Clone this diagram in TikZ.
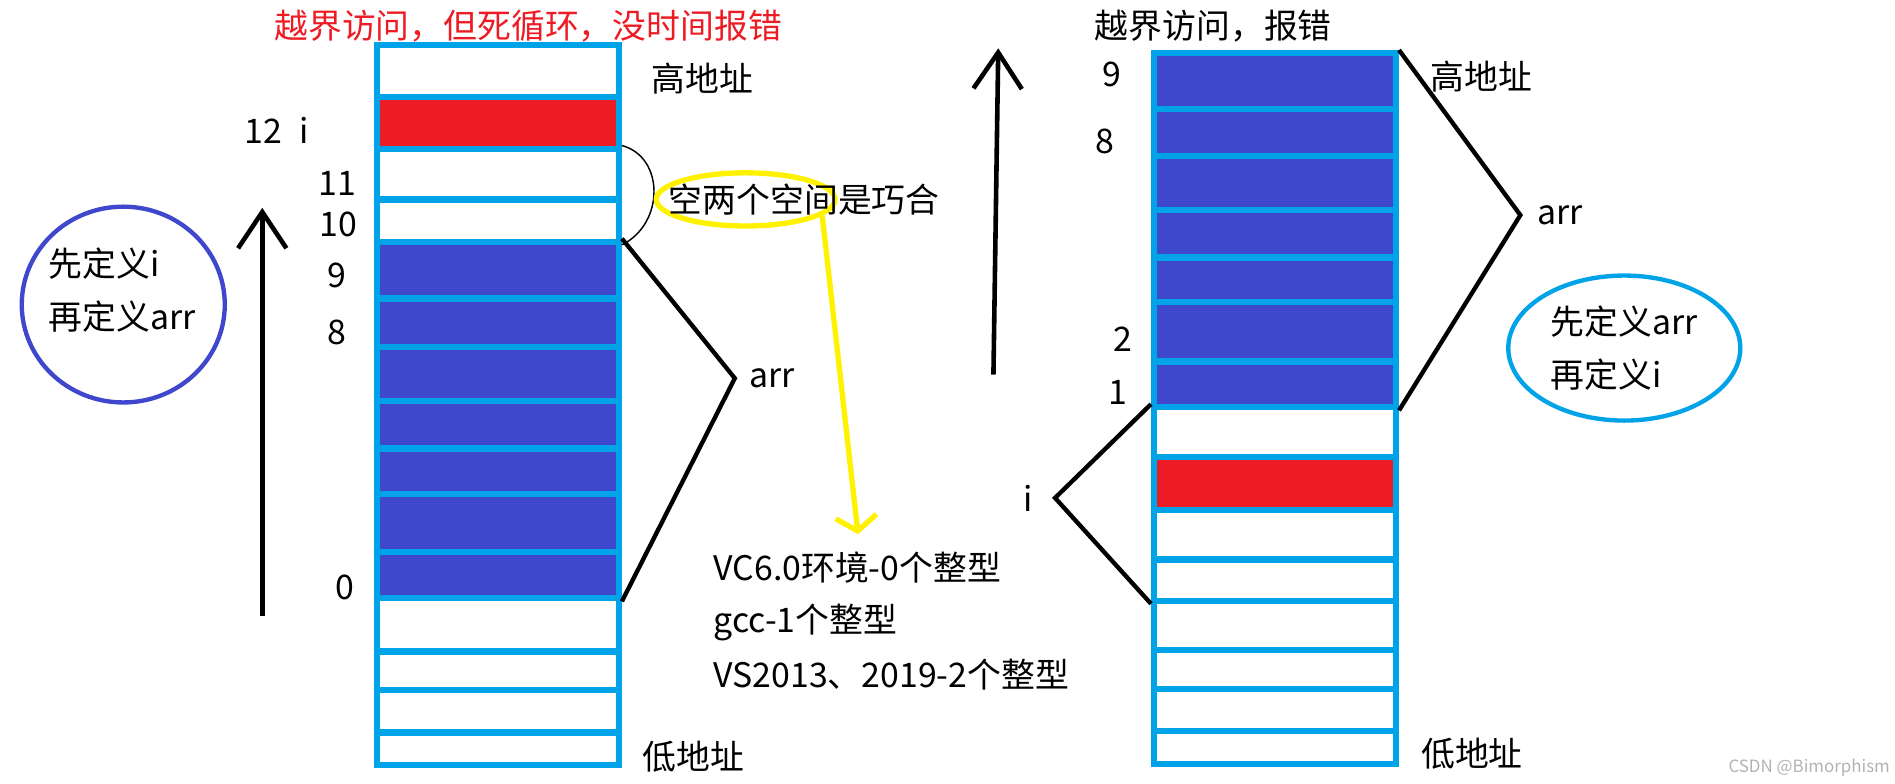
\documentclass[tikz,border=0pt]{standalone}
\usepackage{fontspec}
\usepackage{tikz}
\usetikzlibrary{arrows.meta,positioning,shapes.geometric}
\newfontfamily\cjk{Noto Sans CJK SC}
\definecolor{memcyan}{HTML}{00A2E8}
\definecolor{memblue}{HTML}{3F48CC}
\definecolor{memred}{HTML}{ED1C24}
\definecolor{memyellow}{HTML}{FFF200}

\begin{document}
\begin{tikzpicture}[
    x=0.5pt, y=-0.5pt,
    txt/.style={font=\cjk\fontsize{14}{22}\selectfont, inner sep=0pt},
    cell/.style={rectangle, draw=memcyan, line width=2.6pt,
                 minimum width=100pt, inner sep=0pt},
    brace/.style={line width=1.8pt},
    uparrow/.style={line width=1.9pt, -{Straight Barb[length=15pt,width=20pt]}},
    oval/.style={ellipse, line width=1.8pt, inner sep=0pt}
  ]
  \useasboundingbox (0,0) rectangle (1568,648);

  %% Left stack (i defined first, then arr)
  \foreach \n/\t/\b/\c in {1/37/80/white, 2/80/123/memred, 3/123/165/white,
      4/165/200/white, 5/200/247/memblue, 6/247/287/memblue, 7/287/332/memblue,
      8/332/371/memblue, 9/371/409/memblue, 10/409/457/memblue, 11/457/495/memblue,
      12/495/539/white, 13/539/571/white, 14/571/606/white, 15/606/633/white}
    \node[cell, fill=\c, minimum height={(\b-\t)*0.5pt}] (lc\n) at (412,{(\t+\b)/2}) {};

  %% Right stack (arr defined first, then i)
  \foreach \n/\t/\b/\c in {1/44/90/memblue, 2/90/129/memblue, 3/129/174/memblue,
      4/174/213/memblue, 5/213/250/memblue, 6/250/299/memblue, 7/299/337/memblue,
      8/337/378/white, 9/378/422/memred, 10/422/463/white, 11/463/497/white,
      12/497/538/white, 13/538/570/white, 14/570/605/white, 15/605/632/white}
    \node[cell, fill=\c, minimum height={(\b-\t)*0.5pt}] (rc\n) at (1055,{(\t+\b)/2}) {};

  %% Titles
  \node[txt, text=memred] (titleL) at (437,22) {越界访问，但死循环，没时间报错};
  \node[txt] (titleR) at (1004,22) {越界访问，报错};

  %% Address labels
  \node[txt] (highL) at (581,65) {高地址};
  \node[txt] (lowL) at (574,626) {低地址};
  \node[txt] (highR) at (1226,63) {高地址};
  \node[txt] (lowR) at (1218,624) {低地址};

  %% Index labels
  \node[txt] (idxL12) at (229,108) {12\enspace i};
  \node[txt] (idxL11) at (279,152) {11};
  \node[txt] (idxL10) at (280,186) {10};
  \node[txt] (idxL9) at (279,228) {9};
  \node[txt] (idxL8) at (279,275) {8};
  \node[txt] (idxL0) at (285,486) {0};
  \node[txt] (idxR9) at (920,62) {9};
  \node[txt] (idxR8) at (914,117) {8};
  \node[txt] (idxR2) at (929,281) {2};
  \node[txt] (idxR1) at (925,325) {1};

  %% Definition order notes
  \node[oval, draw=memblue, minimum width=84pt, minimum height=81pt] (orderL) at (102,252) {};
  \node[txt, align=left] (orderLtext) at (101,240) {先定义i\\再定义arr};
  \node[oval, draw=memcyan, minimum width=96pt, minimum height=60pt,
        txt, align=left] (orderR) at (1344,288) {先定义arr\\再定义i};

  %% Growth direction arrows
  \coordinate (upLbot) at (217,510);
  \coordinate (upLtop) at (217,172);
  \draw[uparrow] (upLbot) -- (upLtop);
  \coordinate (upRbot) at (822,310);
  \coordinate (upRtop) at (826,40);
  \draw[uparrow] (upRbot) -- (upRtop);

  %% arr / i brackets
  \coordinate (arrtipL) at (608,313);
  \draw[brace] (lc5.north east) -- (arrtipL) -- (lc11.south east);
  \node[txt, right=6pt of arrtipL] (arrL) {arr};
  \coordinate (arrtipR) at (1258,178);
  \draw[brace] (rc1.north east) -- (arrtipR) -- (rc7.south east);
  \node[txt, right=7pt of arrtipR] (arrR) {arr};
  \coordinate (itip) at (873,412);
  \draw[brace] (rc8.north west) -- (itip) -- (rc11.south west);
  \node[txt, left=9pt of itip] (iR) {i};

  %% Gap of two ints
  \draw[line width=0.6pt] (lc3.north east) .. controls (550,130) and (550,185) .. (lc4.south east);
  \node[oval, draw=memyellow, line width=2.2pt, minimum width=74pt, minimum height=22pt] (gapoval) at (617,165) {};
  \node[txt, anchor=west] (gaptext) at (553,165) {空两个空间是巧合};
  \coordinate (hinttip) at (710,442);
  \draw[memyellow, line width=2.2pt, -{Straight Barb[length=6pt,width=17pt]}] (gapoval.-12) -- (hinttip);

  %% Compiler notes
  \node[txt, anchor=west] (vc6) at (590,470) {VC6.0环境-0个整型};
  \node[txt, anchor=west] (gcc) at (590,515) {gcc-1个整型};
  \node[txt, anchor=west] (vs) at (590,558) {VS2013、2019-2个整型};

  %% Watermark
  \node[font=\cjk\fontsize{7}{8}\selectfont, text=gray!60, inner sep=0pt] (mark) at (1497,635) {CSDN @Bimorphism};
\end{tikzpicture}
\end{document}
